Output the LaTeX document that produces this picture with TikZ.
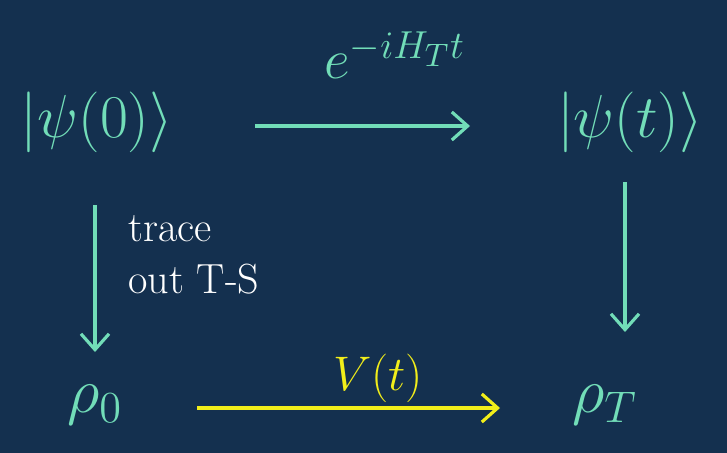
\documentclass[tikz,border=0pt]{standalone}
\usetikzlibrary{arrows.meta}
\definecolor{bg}{HTML}{14304F}
\definecolor{mint}{HTML}{72DDB8}
\definecolor{yel}{HTML}{F2EE1A}
\newcommand{\bigtxt}[2]{\scalebox{#1}{\LARGE #2}}
\begin{document}
\begin{tikzpicture}[x=0.02cm,y=-0.02cm,
  st/.style={text=mint},
  arr/.style={mint,line width=1.8pt,-{Straight Barb[length=9pt,width=16pt]}},
  lbl/.style={font=\fontsize{24}{30}\selectfont}]
\fill[bg] (0,0) rectangle (727,453);
\useasboundingbox (0,0) rectangle (727,453);
\node[st] (p0) at (97,122) {\bigtxt{2.0}{$|\psi(0)\rangle$}};
\node[st] (pt) at (630,122) {\bigtxt{2.0}{$|\psi(t)\rangle$}};
\node[st] (r0) at (95,405) {\bigtxt{2.1}{$\rho_0$}};
\node[st] (rT) at (605,405) {\bigtxt{2.1}{$\rho_T$}};
\coordinate (a1) at (255,126);
\coordinate (a2) at (470,126);
\draw[arr] (a1) -- (a2);
\node[text=mint] (e) at (395,55) {\bigtxt{1.85}{$e^{-iH_Tt}$}};
\coordinate (b1) at (95,205);
\coordinate (b2) at (95,352);
\draw[arr] (b1) -- (b2);
\coordinate (c1) at (625,182);
\coordinate (c2) at (625,332);
\draw[arr] (c1) -- (c2);
\node[text=white,align=left,lbl,anchor=west,inner sep=0pt] (tr) at (128,255) {trace\\out T-S};
\coordinate (d1) at (197,408);
\coordinate (d2) at (500,408);
\draw[arr,yel] (d1) -- (d2);
\node[text=yel] (v) at (378,378) {\bigtxt{1.6}{$V(t)$}};
\end{tikzpicture}
\end{document}
